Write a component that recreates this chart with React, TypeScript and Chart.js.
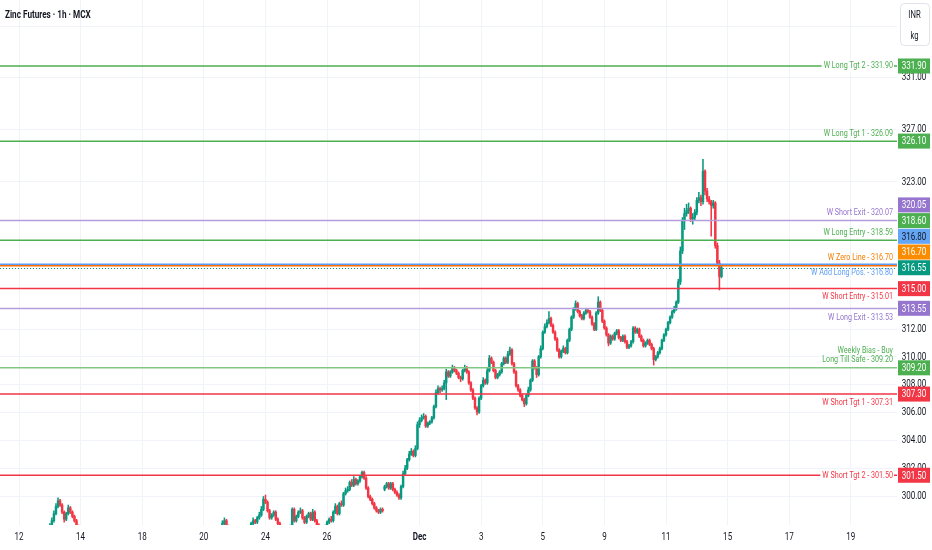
import React, { useEffect, useRef } from 'react';
import { Chart, registerables } from 'chart.js';

Chart.register(...registerables);

// ---------- data ----------
const chartTitle = 'Zinc Futures · 1h · MCX';
const unitTop = 'INR';
const unitBottom = 'kg';

// time axis: bar index of the first hourly bar of each labelled day
const dayLabels = ['12', '14', '18', '20', '24', '26', 'Dec', '3', '5', '9', '11', '15', '17', '19'];
const dayLabelIndex = [0, 30, 60, 90, 120, 150, 195, 225, 255, 285, 315, 345, 375, 405];

// price axis ticks
const priceTicks = [300, 302, 304, 306, 308, 310, 312, 323, 327, 331, 335];

// hourly OHLC, one row per trading day (Nov 12 .. Dec 12)
const opens = [
  297.0, 296.8, 296.5, 296.9, 297.1, 296.7, 296.4, 296.6, 296.9, 297.2, 297.0, 296.8, 297.1, 297.4, 297.3,
  297.5, 297.9, 298.3, 298.8, 299.3, 299.7, 299.4, 298.9, 298.4, 298.8, 299.2, 298.9, 298.6, 298.3, 297.9,
  297.6, 297.2, 296.9, 296.5, 296.8, 296.3, 296.0, 296.2, 295.8, 295.5, 295.9, 296.2, 295.7, 295.4, 295.6,
  295.3, 295.6, 295.9, 295.4, 295.1, 295.5, 295.8, 296.1, 295.7, 295.3, 295.0, 294.7, 295.2, 295.5, 295.1,
  294.8, 294.5, 294.9, 295.3, 295.0, 294.6, 294.3, 294.8, 295.2, 295.6, 295.4, 295.9, 296.2, 295.8, 295.5,
  295.9, 296.2, 296.6, 296.3, 296.0, 296.4, 296.8, 297.1, 296.8, 296.5, 296.9, 297.2, 296.9, 296.6, 296.3,
  296.7, 296.9, 297.2, 296.8, 297.0, 297.3, 297.1, 296.9, 297.4, 297.7, 298.1, 298.3, 297.9, 297.5, 297.2,
  297.0, 296.6, 296.3, 296.7, 297.0, 296.8, 297.2, 297.5, 297.7, 298.1, 298.3, 298.2, 298.5, 298.7, 299.1,
  299.8, 299.6, 299.0, 298.5, 298.7, 298.9, 298.4, 298.1, 297.7, 297.4, 297.6, 297.5, 297.8, 297.9, 299.1,
  298.3, 298.6, 298.9, 299.0, 298.5, 298.2, 298.6, 298.8, 298.4, 298.9, 298.3, 298.0, 297.7, 297.5, 297.8,
  297.9, 298.2, 298.4, 298.3, 298.9, 299.3, 298.8, 299.5, 299.4, 300.2, 300.4, 300.5, 301.0, 300.8, 301.2,
  300.9, 301.1, 301.4, 301.7, 301.3, 300.6, 300.0, 299.8, 299.5, 299.2, 299.0, 298.9, 299.1, 300.5, 300.7,
  300.9, 300.6, 300.9, 300.5, 300.3, 300.1, 299.9, 300.7, 301.6, 302.0, 302.6, 303.0, 303.2, 302.9, 303.4,
  305.1, 305.4, 305.6, 305.7, 305.0, 305.2, 305.3, 305.6, 306.4, 307.4, 307.7, 307.6, 307.7, 308.1, 308.9,
  308.6, 308.9, 309.2, 309.0, 308.8, 308.5, 308.4, 309.0, 309.2, 308.9, 308.1, 307.6, 307.0, 306.3, 306.0,
  307.0, 307.9, 308.3, 308.1, 309.0, 309.9, 309.6, 309.0, 308.5, 308.7, 308.9, 309.5, 309.9, 309.6, 310.2,
  310.5, 309.5, 308.9, 307.9, 307.6, 307.2, 306.9, 306.6, 307.2, 307.6, 308.3, 309.7, 309.2, 308.7, 310.0,
  310.6, 311.8, 312.2, 312.5, 312.8, 312.3, 311.8, 311.3, 310.5, 310.0, 310.4, 310.6, 310.3, 311.2, 312.0,
  312.9, 313.5, 313.9, 313.3, 313.0, 312.8, 313.2, 313.4, 313.3, 312.9, 312.4, 312.0, 313.2, 314.0, 313.4,
  312.6, 312.1, 311.6, 311.0, 311.5, 311.3, 311.7, 311.9, 311.4, 311.2, 311.5, 311.1, 310.7, 310.8, 311.1,
  312.1, 311.8, 312.0, 311.5, 311.2, 310.8, 311.0, 311.2, 310.9, 310.6, 309.8, 310.0, 310.3, 310.6, 311.2,
  311.6, 312.0, 312.5, 312.9, 313.3, 313.5, 314.0, 315.5, 317.8, 320.1, 320.6, 320.8, 321.0, 320.2, 320.3,
  320.7, 321.6, 321.8, 321.5, 323.8, 322.3, 321.7, 321.5, 321.2, 321.4, 318.2, 316.9, 315.9,
];
const highs = [
  297.2, 296.9, 297.0, 297.3, 297.2, 296.8, 296.7, 297.0, 297.3, 297.3, 297.1, 297.2, 297.5, 297.5, 297.7,
  298.1, 298.5, 299.0, 299.5, 299.9, 299.8, 299.5, 299.0, 298.9, 299.4, 299.3, 299.0, 298.7, 298.4, 298.0,
  297.7, 297.3, 297.0, 296.9, 296.9, 296.4, 296.3, 296.3, 295.9, 296.0, 296.3, 296.3, 295.8, 295.7, 295.7,
  295.7, 296.0, 296.0, 295.5, 295.6, 295.9, 296.2, 296.2, 295.8, 295.4, 295.1, 295.3, 295.6, 295.6, 295.2,
  294.9, 295.0, 295.4, 295.4, 295.1, 294.7, 294.9, 295.3, 295.7, 295.7, 296.0, 296.3, 296.3, 295.9, 296.0,
  296.3, 296.7, 296.7, 296.4, 296.5, 296.9, 297.2, 297.2, 296.9, 297.0, 297.3, 297.3, 297.0, 296.7, 296.8,
  297.0, 297.3, 297.3, 297.1, 297.4, 297.4, 297.2, 297.5, 297.8, 298.3, 298.5, 298.4, 298.0, 297.6, 297.3,
  297.1, 296.7, 296.8, 297.1, 297.1, 297.3, 297.6, 297.8, 298.2, 298.5, 298.4, 298.6, 298.9, 299.3, 300.0,
  300.1, 299.7, 299.1, 298.8, 299.0, 299.0, 298.5, 298.2, 297.8, 297.7, 297.7, 297.9, 298.0, 299.2, 299.2,
  298.7, 299.0, 299.2, 299.1, 298.6, 298.7, 298.9, 298.9, 299.1, 299.0, 298.4, 298.1, 297.8, 297.9, 298.0,
  298.3, 298.5, 298.6, 299.0, 299.5, 299.4, 299.6, 299.7, 300.3, 300.6, 300.7, 301.1, 301.2, 301.4, 301.3,
  301.2, 301.5, 301.8, 301.8, 301.4, 300.7, 300.1, 299.9, 299.6, 299.3, 299.1, 299.2, 299.2, 300.8, 301.0,
  301.0, 301.0, 301.0, 300.6, 300.4, 300.2, 300.8, 301.8, 302.2, 302.7, 303.2, 303.4, 303.3, 303.6, 305.3,
  305.6, 305.8, 305.9, 305.8, 305.3, 305.4, 305.7, 306.5, 307.6, 307.9, 307.8, 307.9, 308.3, 309.1, 309.0,
  309.0, 309.4, 309.3, 309.1, 308.9, 308.6, 309.1, 309.4, 309.3, 309.0, 308.2, 307.7, 307.1, 306.4, 307.1,
  308.0, 308.5, 308.4, 309.2, 310.1, 310.0, 309.7, 309.1, 308.8, 309.0, 309.6, 310.0, 310.0, 310.4, 310.7,
  310.6, 309.6, 309.0, 308.0, 307.7, 307.3, 307.0, 307.3, 307.8, 308.4, 309.8, 309.8, 309.3, 310.1, 310.8,
  311.9, 312.4, 312.7, 313.3, 312.9, 312.4, 311.9, 311.4, 310.6, 310.5, 310.8, 310.7, 311.3, 312.1, 313.0,
  313.6, 314.1, 314.0, 313.4, 313.1, 313.3, 313.5, 313.5, 313.4, 313.0, 312.5, 313.3, 314.4, 314.1, 313.5,
  312.7, 312.2, 311.7, 311.6, 311.6, 311.8, 312.0, 312.0, 311.5, 311.6, 311.6, 311.2, 310.9, 311.2, 312.2,
  312.2, 312.1, 312.1, 311.6, 311.3, 311.1, 311.3, 311.3, 311.0, 310.7, 310.1, 310.4, 310.7, 311.3, 311.7,
  312.1, 312.6, 313.0, 313.4, 313.7, 314.1, 315.7, 318.1, 320.3, 321.0, 321.3, 321.4, 321.1, 320.6, 320.9,
  321.8, 322.2, 322.0, 324.7, 323.9, 322.5, 321.9, 321.6, 321.6, 321.5, 318.4, 317.1, 316.8,
];
const lows = [
  296.6, 296.4, 296.4, 296.8, 296.6, 296.3, 296.3, 296.5, 296.8, 296.9, 296.7, 296.7, 297.0, 297.2, 297.2,
  297.4, 297.8, 298.2, 298.7, 299.2, 299.3, 298.8, 298.2, 298.3, 298.7, 298.8, 298.5, 298.2, 297.8, 297.5,
  297.1, 296.8, 296.4, 296.4, 296.2, 295.9, 295.9, 295.7, 295.4, 295.4, 295.8, 295.6, 295.3, 295.3, 295.2,
  295.2, 295.5, 295.3, 295.0, 295.0, 295.4, 295.7, 295.6, 295.2, 294.9, 294.6, 294.6, 295.1, 295.0, 294.7,
  294.4, 294.4, 294.8, 294.9, 294.5, 294.2, 294.2, 294.7, 295.1, 295.3, 295.3, 295.8, 295.7, 295.4, 295.4,
  295.8, 296.1, 296.2, 295.9, 295.9, 296.3, 296.7, 296.7, 296.4, 296.4, 296.8, 296.8, 296.5, 296.2, 296.2,
  296.6, 296.8, 296.7, 296.7, 296.9, 297.0, 296.8, 296.8, 297.3, 297.6, 298.0, 297.8, 297.4, 297.1, 296.9,
  296.5, 296.2, 296.2, 296.6, 296.7, 296.7, 297.1, 297.4, 297.6, 298.0, 298.1, 298.1, 298.4, 298.6, 299.0,
  299.5, 298.9, 298.4, 298.4, 298.6, 298.3, 298.0, 297.6, 297.3, 297.3, 297.4, 297.4, 297.7, 297.8, 298.2,
  298.2, 298.5, 298.8, 298.4, 298.1, 298.1, 298.5, 298.3, 298.3, 298.2, 297.9, 297.6, 297.4, 297.4, 297.7,
  297.8, 298.1, 298.2, 298.2, 298.8, 298.7, 298.7, 299.3, 299.3, 300.1, 300.3, 300.4, 300.7, 300.7, 300.8,
  300.8, 301.0, 301.3, 301.2, 300.5, 299.9, 299.7, 299.4, 299.1, 298.9, 298.8, 298.8, 298.9, 300.4, 300.6,
  300.5, 300.5, 300.4, 300.2, 300.0, 299.8, 299.8, 300.6, 301.5, 301.9, 302.5, 302.9, 302.8, 302.8, 303.3,
  304.9, 305.3, 305.5, 304.9, 304.9, 305.1, 305.2, 305.5, 306.3, 307.3, 307.4, 307.5, 307.6, 306.9, 308.5,
  308.5, 308.8, 308.9, 308.7, 308.4, 308.2, 308.3, 308.9, 308.8, 308.0, 307.5, 306.9, 306.2, 305.8, 305.9,
  306.9, 307.8, 308.0, 308.0, 308.9, 309.5, 308.9, 308.4, 308.4, 308.6, 308.8, 309.4, 309.5, 309.5, 310.1,
  309.4, 308.8, 307.8, 307.5, 307.1, 306.8, 306.4, 306.5, 307.1, 307.5, 308.2, 309.1, 308.5, 308.6, 309.9,
  310.5, 311.7, 312.1, 312.4, 312.2, 311.7, 311.2, 310.4, 309.9, 309.9, 310.3, 310.2, 310.2, 311.1, 311.9,
  312.8, 313.4, 313.2, 312.9, 312.7, 312.7, 313.1, 313.2, 312.8, 312.3, 311.9, 311.9, 313.1, 313.3, 312.5,
  312.0, 311.5, 310.8, 310.9, 311.2, 311.2, 311.6, 311.3, 311.1, 311.1, 311.0, 310.6, 310.6, 310.7, 311.0,
  311.7, 311.7, 311.4, 311.1, 310.7, 310.7, 310.9, 310.8, 310.5, 309.4, 309.7, 309.9, 310.2, 310.5, 311.1,
  311.5, 311.9, 312.4, 312.8, 313.2, 313.4, 313.9, 315.3, 317.6, 319.4, 320.4, 320.6, 320.0, 319.8, 320.1,
  320.5, 321.4, 321.2, 321.3, 322.0, 321.5, 321.3, 318.9, 321.0, 318.0, 316.7, 314.9, 315.8,
];
const closes = [
  296.8, 296.5, 296.9, 297.1, 296.7, 296.4, 296.6, 296.9, 297.2, 297.0, 296.8, 297.1, 297.4, 297.3, 297.5,
  297.9, 298.3, 298.8, 299.3, 299.7, 299.4, 298.9, 298.4, 298.8, 299.2, 298.9, 298.6, 298.3, 297.9, 297.6,
  297.2, 296.9, 296.5, 296.8, 296.3, 296.0, 296.2, 295.8, 295.5, 295.9, 296.2, 295.7, 295.4, 295.6, 295.3,
  295.6, 295.9, 295.4, 295.1, 295.5, 295.8, 296.1, 295.7, 295.3, 295.0, 294.7, 295.2, 295.5, 295.1, 294.8,
  294.5, 294.9, 295.3, 295.0, 294.6, 294.3, 294.8, 295.2, 295.6, 295.4, 295.9, 296.2, 295.8, 295.5, 295.9,
  296.2, 296.6, 296.3, 296.0, 296.4, 296.8, 297.1, 296.8, 296.5, 296.9, 297.2, 296.9, 296.6, 296.3, 296.7,
  296.9, 297.2, 296.8, 297.0, 297.3, 297.1, 296.9, 297.4, 297.7, 298.1, 298.3, 297.9, 297.5, 297.2, 297.0,
  296.6, 296.3, 296.7, 297.0, 296.8, 297.2, 297.5, 297.7, 298.1, 298.3, 298.2, 298.5, 298.7, 299.1, 299.8,
  299.6, 299.0, 298.5, 298.7, 298.9, 298.4, 298.1, 297.7, 297.4, 297.6, 297.5, 297.8, 297.9, 299.1, 298.3,
  298.6, 298.9, 299.0, 298.5, 298.2, 298.6, 298.8, 298.4, 298.9, 298.3, 298.0, 297.7, 297.5, 297.8, 297.9,
  298.2, 298.4, 298.3, 298.9, 299.3, 298.8, 299.5, 299.4, 300.2, 300.4, 300.5, 301.0, 300.8, 301.2, 300.9,
  301.1, 301.4, 301.7, 301.3, 300.6, 300.0, 299.8, 299.5, 299.2, 299.0, 298.9, 299.1, 299.0, 300.7, 300.9,
  300.6, 300.9, 300.5, 300.3, 300.1, 299.9, 300.7, 301.6, 302.0, 302.6, 303.0, 303.2, 302.9, 303.4, 305.1,
  305.4, 305.6, 305.7, 305.0, 305.2, 305.3, 305.6, 306.4, 307.4, 307.7, 307.6, 307.7, 308.1, 308.9, 308.6,
  308.9, 309.2, 309.0, 308.8, 308.5, 308.4, 309.0, 309.2, 308.9, 308.1, 307.6, 307.0, 306.3, 306.0, 307.0,
  307.9, 308.3, 308.1, 309.0, 309.9, 309.6, 309.0, 308.5, 308.7, 308.9, 309.5, 309.9, 309.6, 310.2, 310.5,
  309.5, 308.9, 307.9, 307.6, 307.2, 306.9, 306.6, 307.2, 307.6, 308.3, 309.7, 309.2, 308.7, 310.0, 310.6,
  311.8, 312.2, 312.5, 312.8, 312.3, 311.8, 311.3, 310.5, 310.0, 310.4, 310.6, 310.3, 311.2, 312.0, 312.9,
  313.5, 313.9, 313.3, 313.0, 312.8, 313.2, 313.4, 313.3, 312.9, 312.4, 312.0, 313.2, 314.0, 313.4, 312.6,
  312.1, 311.6, 311.0, 311.5, 311.3, 311.7, 311.9, 311.4, 311.2, 311.5, 311.1, 310.7, 310.8, 311.1, 312.1,
  311.8, 312.0, 311.5, 311.2, 310.8, 311.0, 311.2, 310.9, 310.6, 309.8, 310.0, 310.3, 310.6, 311.2, 311.6,
  312.0, 312.5, 312.9, 313.3, 313.5, 314.0, 315.5, 317.8, 320.1, 320.6, 320.8, 321.0, 320.2, 320.3, 320.7,
  321.6, 321.8, 321.5, 323.8, 322.3, 321.7, 321.5, 321.2, 321.4, 318.2, 316.9, 315.9, 316.55,
];

// horizontal levels drawn on the chart
const levelNames = [
  'W Long Tgt 2', 'W Long Tgt 1', 'W Short Exit', 'W Long Entry', 'W Zero Line', 'W Add Long Pos.',
  'W Short Entry', 'W Long Exit', 'Long Till Safe', 'W Short Tgt 1', 'W Short Tgt 2',
];
const levelPrices = [331.9, 326.09, 320.07, 318.59, 316.7, 316.8, 315.01, 313.53, 309.2, 307.31, 301.5];
const biasNote = 'Weekly Bias - Buy';

// ---------- styles ----------
const UP = '#089981';
const DOWN = '#f23645';
const GREEN = '#4caf50';
const PURPLE = '#9575cd';
const RED = '#f23645';
const TEXT = '#131722';
const FONT = "Roboto, 'Liberation Sans', sans-serif";
const SX = 0.73; // horizontal squeeze of the reference text
const levelStyles = [
  { line: GREEN, text: GREEN, box: GREEN, boxText: '#ffffff', place: 'center' },
  { line: GREEN, text: GREEN, box: GREEN, boxText: '#ffffff', place: 'above' },
  { line: '#b39ddb', text: PURPLE, box: PURPLE, boxText: '#ffffff', place: 'above' },
  { line: GREEN, text: GREEN, box: GREEN, boxText: '#ffffff', place: 'above' },
  { line: '#ff6d00', text: '#f57c00', box: '#fb8c00', boxText: '#ffffff', place: 'above' },
  { line: '#5b9cf6', text: '#5b9cf6', box: '#64a5f5', boxText: TEXT, place: 'below' },
  { line: RED, text: RED, box: RED, boxText: '#ffffff', place: 'below' },
  { line: '#b39ddb', text: PURPLE, box: PURPLE, boxText: '#ffffff', place: 'below' },
  { line: '#81c784', text: GREEN, box: GREEN, boxText: '#ffffff', place: 'bias' },
  { line: RED, text: RED, box: RED, boxText: '#ffffff', place: 'below' },
  { line: RED, text: RED, box: RED, boxText: '#ffffff', place: 'center' },
];

const X_PX_PER_BAR = 2.054;
const X_MIN = -19 / X_PX_PER_BAR;
const X_MAX = X_MIN + 897 / X_PX_PER_BAR;
const Y_MIN = 298.0;
const Y_MAX = 337.08;

function sText(ctx: CanvasRenderingContext2D, text: string, x: number, y: number, align: CanvasTextAlign, font: string, color: string) {
  ctx.save();
  ctx.font = font;
  ctx.fillStyle = color;
  ctx.textBaseline = 'middle';
  ctx.textAlign = align;
  ctx.translate(x, y);
  ctx.scale(SX, 1);
  ctx.fillText(text, 0, 0);
  ctx.restore();
}
function sWidth(ctx: CanvasRenderingContext2D, text: string, font: string) {
  ctx.save();
  ctx.font = font;
  const w = ctx.measureText(text).width * SX;
  ctx.restore();
  return w;
}

const overlay = {
  id: 'overlay',
  afterDraw(chart: any) {
    const { ctx, chartArea: a, scales } = chart;
    const xs = scales.x;
    const ys = scales.y;
    const lastPrice = closes[closes.length - 1];
    const labelFont = `9.8px ${FONT}`;
    const axisFont = `11px ${FONT}`;
    const textRight = a.right - 4;

    ctx.save();
    ctx.beginPath();
    ctx.rect(a.left, a.top, a.right - a.left, a.bottom - a.top);
    ctx.clip();

    // current price dotted line
    const yLast = ys.getPixelForValue(lastPrice);
    ctx.strokeStyle = UP;
    ctx.lineWidth = 1;
    ctx.setLineDash([1, 2]);
    ctx.beginPath();
    ctx.moveTo(a.left, Math.round(yLast) + 0.5);
    ctx.lineTo(a.right, Math.round(yLast) + 0.5);
    ctx.stroke();
    ctx.setLineDash([]);

    // levels
    levelPrices.forEach((p, i) => {
      const st = levelStyles[i];
      const y = ys.getPixelForValue(p);
      ctx.strokeStyle = st.line;
      ctx.lineWidth = 1.5;
      ctx.beginPath();
      ctx.moveTo(a.left, y);
      ctx.lineTo(a.right, y);
      ctx.stroke();
      const label = `${levelNames[i]} - ${p.toFixed(2)}`;
      if (st.place === 'center') {
        const w = sWidth(ctx, label, labelFont);
        ctx.fillStyle = '#ffffff';
        ctx.fillRect(textRight - w - 2, y - 6, w + 3, 12);
        sText(ctx, label, textRight, y, 'right', labelFont, st.text);
      } else if (st.place === 'above') {
        sText(ctx, label, textRight, y - 8, 'right', labelFont, st.text);
      } else if (st.place === 'below') {
        sText(ctx, label, textRight, y + 8.5, 'right', labelFont, st.text);
      } else {
        sText(ctx, biasNote, textRight, y - 17, 'right', labelFont, st.text);
        sText(ctx, label, textRight, y - 8, 'right', labelFont, st.text);
      }
    });
    ctx.restore();

    // price axis tick labels
    ys.ticks.forEach((t: any) => {
      const y = ys.getPixelForValue(t.value);
      if (y < a.top || y > a.bottom) return;
      sText(ctx, Number(t.value).toFixed(2), 914, y, 'center', axisFont, TEXT);
    });

    // time axis labels
    dayLabelIndex.forEach((v, i) => {
      const x = xs.getPixelForValue(v);
      const isMonth = dayLabels[i] === 'Dec';
      sText(ctx, dayLabels[i], x, a.bottom + 12, 'center', `${isMonth ? 'bold ' : ''}11px ${FONT}`, TEXT);
    });

    // price axis boxes
    const boxes = levelPrices.map((p, i) => ({
      value: Math.round(p / 0.05) * 0.05,
      color: levelStyles[i].box,
      textColor: levelStyles[i].boxText,
      anchor: false,
      y: 0,
    }));
    boxes.push({ value: lastPrice, color: UP, textColor: '#ffffff', anchor: true, y: 0 });
    boxes.forEach((b) => (b.y = ys.getPixelForValue(b.value)));
    boxes.sort((p, q) => p.y - q.y);
    const k = boxes.findIndex((b) => b.anchor);
    const H = 15.7;
    for (let j = k - 1; j >= 0; j--) boxes[j].y = Math.min(boxes[j].y, boxes[j + 1].y - H);
    for (let j = k + 1; j < boxes.length; j++) boxes[j].y = Math.max(boxes[j].y, boxes[j - 1].y + H);
    boxes.forEach((b) => {
      ctx.fillStyle = b.color;
      ctx.fillRect(a.right + 1, b.y - 7.5, 32, 15);
      sText(ctx, b.value.toFixed(2), 914, b.y + 0.5, 'center', axisFont, b.textColor);
    });

    // currency / unit box
    ctx.save();
    ctx.fillStyle = '#ffffff';
    ctx.strokeStyle = '#e0e3eb';
    ctx.lineWidth = 1;
    ctx.beginPath();
    (ctx as any).roundRect(900.5, 3.5, 29, 42, 4);
    ctx.fill();
    ctx.stroke();
    ctx.restore();
    sText(ctx, unitTop, 914.5, 15.5, 'center', `10.5px ${FONT}`, TEXT);
    sText(ctx, unitBottom, 914.5, 36.5, 'center', `10.5px ${FONT}`, TEXT);

    // title
    sText(ctx, chartTitle, 5, 15.5, 'left', `bold 11.2px ${FONT}`, TEXT);
  },
};

export default function App() {
  const ref = useRef<HTMLCanvasElement>(null);
  useEffect(() => {
    document.body.style.margin = '0';
    const barColors = closes.map((c, i) => (c >= opens[i] ? UP : DOWN));
    const chart = new Chart(ref.current as HTMLCanvasElement, {
      type: 'bar',
      data: {
        datasets: [
          {
            label: 'body',
            data: closes.map((c, i) => ({ x: i, y: [opens[i], c] })) as any,
            backgroundColor: barColors,
            borderWidth: 0,
            barThickness: 1.8,
            minBarLength: 1,
            grouped: false,
            clip: 0,
          } as any,
          {
            label: 'wick',
            data: closes.map((c, i) => ({ x: i, y: [lows[i], highs[i]] })) as any,
            backgroundColor: barColors,
            borderWidth: 0,
            barThickness: 0.9,
            grouped: false,
            clip: 0,
          } as any,
        ],
      },
      options: {
        animation: false,
        responsive: false,
        maintainAspectRatio: false,
        layout: { padding: 0 },
        events: [],
        plugins: { legend: { display: false }, tooltip: { enabled: false }, title: { display: false } },
        scales: {
          x: {
            type: 'linear',
            min: X_MIN,
            max: X_MAX,
            offset: false,
            afterBuildTicks: (s: any) => {
              s.ticks = dayLabelIndex.map((v) => ({ value: v }));
            },
            afterFit: (s: any) => {
              s.height = 25;
            },
            ticks: { display: false },
            grid: { color: '#f0f3fa', drawTicks: false, offset: false },
            border: { display: false },
          },
          y: {
            type: 'logarithmic',
            position: 'right',
            min: Y_MIN,
            max: Y_MAX,
            afterBuildTicks: (s: any) => {
              s.ticks = priceTicks.map((v) => ({ value: v }));
            },
            afterFit: (s: any) => {
              s.width = 35;
            },
            ticks: { display: false },
            grid: { color: '#f0f3fa', drawTicks: false },
            border: { display: false },
          },
        } as any,
      },
      plugins: [overlay],
    });
    return () => chart.destroy();
  }, []);
  return (
    <div style={{ width: 932, height: 550, background: '#ffffff' }}>
      <canvas ref={ref} width={932} height={550} style={{ display: 'block', width: 932, height: 550 }} />
    </div>
  );
}
